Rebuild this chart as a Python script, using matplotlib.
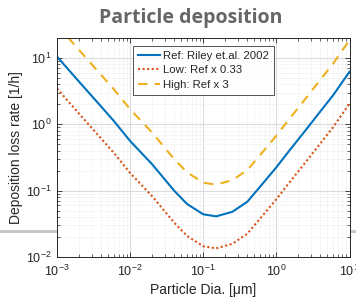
import matplotlib
matplotlib.use("Agg")
import matplotlib.pyplot as plt
from matplotlib.lines import Line2D
from matplotlib.ticker import LogLocator, NullFormatter

# Data
diameter_um = [0.001, 0.002, 0.004, 0.006, 0.01, 0.02, 0.04, 0.06, 0.1, 0.15,
               0.25, 0.4, 0.6, 1.0, 1.5, 2.5, 4.0, 6.0, 10.0]
ref_rate = [10.5, 4.4, 1.86, 1.12, 0.56, 0.25, 0.100, 0.063, 0.044, 0.041,
            0.048, 0.068, 0.115, 0.225, 0.40, 0.81, 1.57, 2.76, 6.2]
low_rate = [3.47, 1.45, 0.614, 0.370, 0.185, 0.0825, 0.0330, 0.0208, 0.0145, 0.0135,
            0.0158, 0.0224, 0.0380, 0.0743, 0.132, 0.267, 0.518, 0.911, 2.05]
high_rate = [31.5, 13.2, 5.58, 3.36, 1.68, 0.75, 0.300, 0.189, 0.132, 0.123,
             0.144, 0.204, 0.345, 0.675, 1.20, 2.43, 4.71, 8.28, 18.6]
series_labels = ["Ref: Riley et.al. 2002", "Low: Ref x 0.33", "High: Ref x 3"]
title_text = "Particle deposition"
xlabel_text = "Particle Dia. [\u03bcm]"
ylabel_text = "Deposition loss rate [1/h]"

plt.rcParams['font.family'] = ['Liberation Sans', 'DejaVu Sans']
plt.rcParams['mathtext.fontset'] = 'custom'
plt.rcParams['mathtext.rm'] = 'Liberation Sans'
plt.rcParams['mathtext.it'] = 'Liberation Sans'

fig = plt.figure(figsize=(3.56, 3.00), dpi=100)
W, H = 356, 300

# Slide decoration line behind the chart
fig.add_artist(Line2D([0, 1], [1 - 230.5 / H, 1 - 230.5 / H], transform=fig.transFigure,
                      color='#c8c8c8', lw=2.2, zorder=0))

ax = fig.add_axes([57 / W, 1 - 257 / H, (349.5 - 57) / W, (257 - 38) / H], zorder=1)
ax.set_facecolor('white')

ax.plot(diameter_um, ref_rate, color='#0072BD', lw=1.5, label=series_labels[0])
ax.plot(diameter_um, low_rate, color='#D95319', lw=1.5, ls=(0, (1, 1.2)), label=series_labels[1])
ax.plot(diameter_um, high_rate, color='#EDB120', lw=1.5, ls=(0, (4.5, 3.5)), label=series_labels[2])

ax.set_xscale('log')
ax.set_yscale('log')
ax.set_xlim(1e-3, 10)
ax.set_ylim(1e-2, 20)

ax.xaxis.set_major_locator(LogLocator(base=10, numticks=10))
ax.yaxis.set_major_locator(LogLocator(base=10, numticks=10))
ax.xaxis.set_minor_locator(LogLocator(base=10, subs=range(2, 10), numticks=20))
ax.yaxis.set_minor_locator(LogLocator(base=10, subs=range(2, 10), numticks=20))
ax.xaxis.set_minor_formatter(NullFormatter())
ax.yaxis.set_minor_formatter(NullFormatter())

ax.grid(True, which='major', color='#dcdcdc', lw=0.8, ls='-')
ax.grid(True, which='minor', color='#e6e6e6', lw=0.6, ls=(0, (1, 1.5)))
ax.set_axisbelow(True)

ax.tick_params(which='both', direction='in', top=True, right=True, colors='#262626',
               labelcolor='#262626', labelsize=9)
ax.tick_params(which='major', length=3.5, width=0.6)
ax.tick_params(which='minor', length=2, width=0.5)
ax.tick_params(axis='x', pad=5)
ax.tick_params(axis='y', pad=4)
for s in ax.spines.values():
    s.set_linewidth(0.7)
    s.set_color('#262626')

ax.set_xlabel(xlabel_text, fontsize=10, color='#262626', labelpad=3)
ax.set_ylabel(ylabel_text, fontsize=10, color='#262626', labelpad=2)

leg = ax.legend(loc='upper center', bbox_to_anchor=(0.5, 0.963), fontsize=8.2,
                frameon=True, fancybox=False, edgecolor='#262626', handlelength=2.0,
                handletextpad=0.25, borderpad=0.4, labelspacing=0.42, borderaxespad=0)
leg.get_frame().set_linewidth(0.7)
for t in leg.get_texts():
    t.set_color('#262626')

fig.text(191 / W, 1 - 18 / H, title_text, ha='center', va='center', fontsize=14,
         fontweight='bold', color='#666666', family=['Open Sans', 'DejaVu Sans'])

fig.savefig('out.png', dpi=100)
